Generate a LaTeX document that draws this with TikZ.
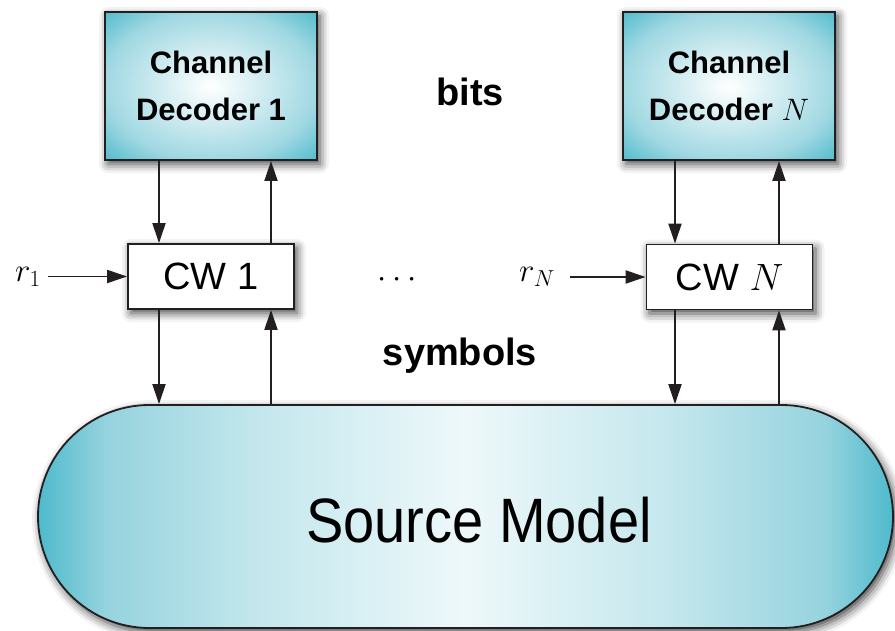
\RequirePackage{fix-cm}
\documentclass[tikz,border=0pt]{standalone}
\usepackage[no-math]{fontspec}
\setmainfont{Liberation Sans}
\usetikzlibrary{arrows.meta,shapes.misc,shadows.blur}
\definecolor{ink}{RGB}{35,31,32}
\definecolor{tealedge}{RGB}{78,186,204}
\definecolor{tealmid}{RGB}{160,216,226}
\definecolor{tealsoft}{RGB}{150,211,222}
\definecolor{teallight}{RGB}{196,231,237}
\definecolor{tealcenter}{RGB}{238,248,250}
\pgfdeclareradialshading{decshade}{\pgfpoint{0bp}{0bp}}{color(0bp)=(white); color(25bp)=(tealmid); color(36bp)=(tealedge); color(50bp)=(tealedge)}
\pgfdeclarehorizontalshading{srcshade}{100bp}{color(0bp)=(tealedge); color(25bp)=(tealedge); color(29bp)=(tealsoft); color(38bp)=(teallight); color(50bp)=(tealcenter); color(62bp)=(teallight); color(71bp)=(tealsoft); color(75bp)=(tealedge); color(100bp)=(tealedge)}
\tikzset{>={Triangle[length=20pt,width=13pt]}}
\begin{document}
\begin{tikzpicture}[x=1pt,y=-1pt,
  myshadow/.style={blur shadow={shadow xshift=3pt,shadow yshift=-4pt,shadow blur radius=9pt,shadow opacity=75}},
  decbox/.style={draw=ink, line width=2pt, minimum width=212pt, minimum height=148pt, shading=decshade, align=center, inner sep=0pt, font=\fontsize{31}{47}\selectfont\bfseries, myshadow},
  cwbox/.style={draw=ink, line width=1.8pt, fill=white, minimum width=166pt, minimum height=65pt, inner sep=0pt, font=\fontsize{38}{44}\selectfont, myshadow},
  srcbox/.style={rounded rectangle, draw=ink, line width=1.8pt, minimum width=855pt, minimum height=223pt, inner sep=0pt, shading=srcshade, myshadow},
  arr/.style={draw=ink, line width=1.9pt, ->},
  mathlbl/.style={font=\fontsize{33}{40}\selectfont},
  boldlbl/.style={font=\fontsize{38}{44}\selectfont\bfseries, anchor=base}]
\useasboundingbox (0,0) rectangle (895,631);

\node[srcbox] (src) at (465.5,516.5) {};
\node[font=\fontsize{56}{60}\selectfont, anchor=base] (srclabel) at (479,542) {\scalebox{1}[1.12]{Source Model}};

\node[decbox] (dec1) at (211,86) {Channel\\Decoder 1};
\node[decbox] (decN) at (729,86) {Channel\\Decoder $N$};

\node[cwbox] (cw1) at (211,276.5) {CW 1};
\node[cwbox] (cwN) at (729.5,277) {CW $N$};

\node[boldlbl] (bits) at (470,106) {bits};
\node[boldlbl] (symbols) at (460,365) {symbols};
\node[mathlbl] (dots) at (397,280) {$\cdots$};

\node[mathlbl] (r1) at (28,276.5) {$r_1$};
\node[mathlbl] (rN) at (537,277) {$r_N$};

\coordinate (xa) at (159,0);
\coordinate (xb) at (271,0);
\coordinate (xc) at (675,0);
\coordinate (xd) at (779,0);

\draw[arr] ([xshift=4pt]r1.east) -- (cw1.west);
\draw[arr] ([xshift=12pt]rN.east) -- (cwN.west);

\draw[arr] (dec1.south -| xa) -- (cw1.north -| xa);
\draw[arr] (cw1.north -| xb) -- (dec1.south -| xb);
\draw[arr] (cw1.south -| xa) -- (src.north -| xa);
\draw[arr] (src.north -| xb) -- (cw1.south -| xb);

\draw[arr] (decN.south -| xc) -- (cwN.north -| xc);
\draw[arr] (cwN.north -| xd) -- (decN.south -| xd);
\draw[arr] (cwN.south -| xc) -- (src.north -| xc);
\draw[arr] (src.north -| xd) -- (cwN.south -| xd);
\end{tikzpicture}
\end{document}
